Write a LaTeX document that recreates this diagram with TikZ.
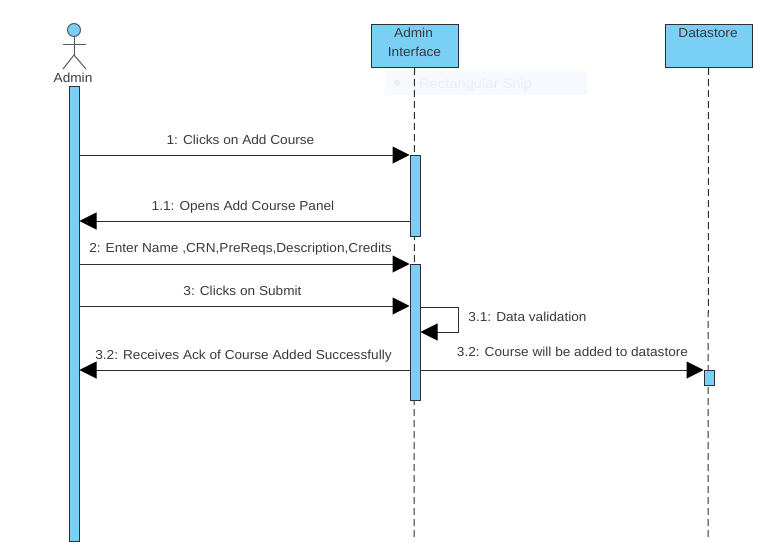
\documentclass[tikz,border=0pt]{standalone}
\usepackage{fontspec}
\setmainfont[FakeStretch=1.05]{Liberation Sans}
\usetikzlibrary{arrows.meta,calc}
\definecolor{fillblue}{HTML}{7ACFF5}
\definecolor{edge}{HTML}{2A3034}
\definecolor{txt}{HTML}{3A3A3A}
\definecolor{snipbg}{HTML}{F6FAFE}
\definecolor{sniptx}{HTML}{E9EEF3}
\tikzset{
  x=1pt,y=-1pt,
  headbox/.style={draw=edge,fill=fillblue,line width=1pt,inner sep=0,minimum width=87pt,minimum height=43pt},
  activation/.style={draw=edge,fill=fillblue,line width=1pt,inner sep=0,minimum width=10pt},
  lifeline/.style={draw=edge,line width=1pt,dash pattern=on 7pt off 4pt},
  msg/.style={draw=edge,line width=1pt,-{Triangle[length=17pt,width=17pt,fill=black,color=black]}},
  msglabel/.style={font=\fontsize{13}{14}\selectfont,text=txt,inner sep=0,anchor=base},
  stick/.style={draw=edge!80!white,line width=1pt},
}
\begin{document}
\begin{tikzpicture}
\useasboundingbox (0,0) rectangle (771,541);
% faint screenshot residue
\node[fill=snipbg,inner sep=0,minimum width=202pt,minimum height=24pt] (snip) at (486,83) {};
\node[font=\fontsize{14}{16}\selectfont,text=sniptx,inner sep=0,anchor=west] (sniptext) at (419,85) {Rectangular Snip};
\node[circle,fill=sniptx,inner sep=0,minimum size=6pt] (snipdot) at (397,83) {};
% heads
\node[headbox] (ifhead) at (414.5,46) {};
\node[msglabel] (iftextA) at (413.5,37) {Admin};
\node[msglabel] (iftextB) at (414.5,56.5) {Interface};
\node[headbox] (dshead) at (708.5,46) {};
\node[msglabel] (dstext) at (708,37.5) {Datastore};
% actor
\node[circle,draw=edge!80!white,fill=fillblue,line width=1pt,inner sep=0,minimum size=13pt] (actorhead) at (74,30) {};
\coordinate (hip) at (74,55);
\coordinate (armL) at (63,44);
\coordinate (armR) at (86,44);
\coordinate (legL) at (63,69);
\coordinate (legR) at (86,69);
\draw[stick] (actorhead.south) -- (hip);
\draw[stick] (armL) -- (armR);
\draw[stick] (legL) -- (hip) -- (legR);
\node[msglabel] (actorlabel) at (73,82) {Admin};
% lifelines ends
\coordinate (ifend) at (414,541);
\coordinate (dsend) at (708,541);
\draw[lifeline] (ifhead.south) -- (ifend);
\draw[lifeline] (dshead.south) -- (dsend);
% activations
\node[activation,minimum height=455pt] (adminbar) at (74,313.5) {};
\node[activation,minimum height=81pt] (ifbarA) at (415,195.5) {};
\node[activation,minimum height=136pt] (ifbarB) at (415,332) {};
\node[activation,minimum height=15pt] (dsbar) at (709,377.5) {};
% rows
\coordinate (r1) at (0,155);
\coordinate (r2) at (0,221);
\coordinate (r3) at (0,264);
\coordinate (r4) at (0,306);
\coordinate (r5) at (0,370);
\coordinate (s1) at (458,307);
\coordinate (s2) at (458,332);
% messages
\draw[msg] (adminbar.east |- r1) -- (ifbarA.west |- r1);
\draw[msg] (ifbarA.west |- r2) -- (adminbar.east |- r2);
\draw[msg] (adminbar.east |- r3) -- (ifbarB.west |- r3);
\draw[msg] (adminbar.east |- r4) -- (ifbarB.west |- r4);
\draw[msg] (ifbarB.east |- s1) -- (s1) -- (s2) -- (ifbarB.east |- s2);
\draw[msg] (ifbarB.west |- r5) -- (adminbar.east |- r5);
\draw[msg] (ifbarB.east |- r5) -- (dsbar.west |- r5);
% labels
\node[msglabel] (l1) at (240.5,144.5) {1: Clicks on Add Course};
\node[msglabel] (l2) at (243,210) {1.1: Opens Add Course Panel};
\node[msglabel] (l3) at (240.5,252.5) {2: Enter Name ,CRN,PreReqs,Description,Credits};
\node[msglabel] (l4) at (242.5,295) {3: Clicks on Submit};
\node[msglabel] (l5) at (527.5,321) {3.1: Data validation};
\node[msglabel] (l6) at (243.5,359) {3.2: Receives Ack of Course Added Successfully};
\node[msglabel] (l7) at (572.5,356) {3.2: Course will be added to datastore};
\end{tikzpicture}
\end{document}
